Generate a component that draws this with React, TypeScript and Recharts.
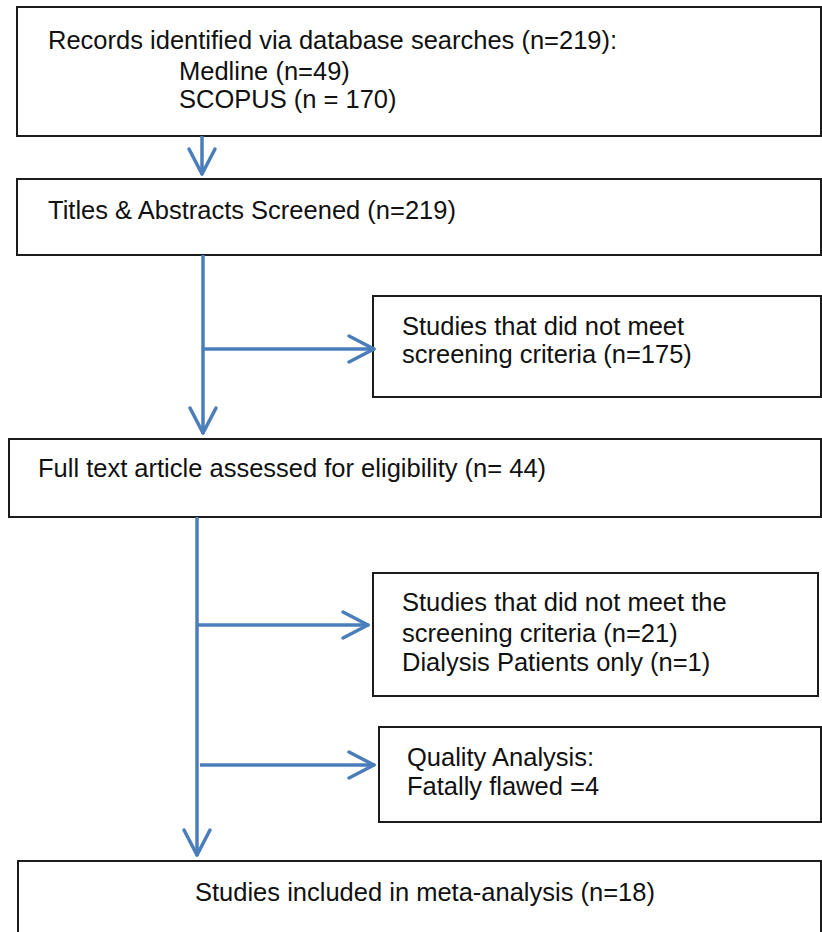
import { ComposedChart, XAxis, YAxis, ReferenceArea, ReferenceLine, Scatter } from "recharts";

// ─── Data ─────────────────────────────────────────────────────────────────────

const SEARCH_TOTAL = 219;
const SOURCE_NAMES = ["Medline", "SCOPUS"];
const SOURCE_COUNTS = [49, 170];
const SCREENED = 219;
const SCREEN_EXCLUDED = 175;
const FULL_TEXT = 44;
const FT_EXCLUDED = 21;
const DIALYSIS_ONLY = 1;
const FATALLY_FLAWED = 4;
const INCLUDED = 18;

// text lines, one array per box
const BOX_LINES: string[][] = [
  [
    `Records identified via database searches (n=${SEARCH_TOTAL}):`,
    `${SOURCE_NAMES[0]} (n=${SOURCE_COUNTS[0]})`,
    `${SOURCE_NAMES[1]} (n = ${SOURCE_COUNTS[1]})`,
  ],
  [`Titles & Abstracts Screened (n=${SCREENED})`],
  ["Studies that did not meet", `screening criteria (n=${SCREEN_EXCLUDED})`],
  [`Full text article assessed for eligibility (n= ${FULL_TEXT})`],
  [
    "Studies that did not meet the",
    `screening criteria (n=${FT_EXCLUDED})`,
    `Dialysis Patients only (n=${DIALYSIS_ONLY})`,
  ],
  ["Quality Analysis:", `Fatally flawed =${FATALLY_FLAWED}`],
  [`Studies included in meta-analysis (n=${INCLUDED})`],
];

// ─── Layout (page units, 1 unit = 1px) ─────────────────────────────────────────

const W = 822;
const H = 932;

const BOXES = [
  { x1: 17, x2: 821, y1: 7, y2: 136 },
  { x1: 17, x2: 821, y1: 179, y2: 255 },
  { x1: 373, x2: 821, y1: 296, y2: 397 },
  { x1: 9, x2: 821, y1: 439, y2: 517 },
  { x1: 373, x2: 818, y1: 573, y2: 696 },
  { x1: 379, x2: 821, y1: 727, y2: 822 },
  { x1: 18, x2: 821, y1: 861, y2: 960 },
];

// left edge of text and centre line of each row, per box
const TEXT_POS = [
  { x: [48, 179, 179], y: [40, 71, 99] },
  { x: [48], y: [210] },
  { x: [402, 402], y: [326, 354] },
  { x: [38], y: [468] },
  { x: [402, 402, 402], y: [602, 633, 662] },
  { x: [407, 407], y: [757, 786] },
  { x: [195], y: [892] },
];

const LINKS = [
  { from: { x: 202, y: 136 }, to: { x: 202, y: 174 } },
  { from: { x: 203, y: 255 }, to: { x: 203, y: 433 } },
  { from: { x: 203, y: 349 }, to: { x: 374, y: 349 } },
  { from: { x: 197, y: 517 }, to: { x: 197, y: 855 } },
  { from: { x: 197, y: 625 }, to: { x: 368, y: 625 } },
  { from: { x: 200, y: 765 }, to: { x: 374, y: 765 } },
];

const ARROW_COLOR = "#4a7ebb";
const BOX_COLOR = "#1c1c1c";
const HEAD_LEN = 25;
const HEAD_HALF = 13;

type Pt = { x: number; y: number };

function headWings(from: Pt, to: Pt): [Pt, Pt][] {
  const dx = to.x - from.x;
  const dy = to.y - from.y;
  const len = Math.hypot(dx, dy) || 1;
  const ux = dx / len;
  const uy = dy / len;
  const bx = to.x - ux * HEAD_LEN;
  const by = to.y - uy * HEAD_LEN;
  return [
    [{ x: bx - uy * HEAD_HALF, y: by + ux * HEAD_HALF }, to],
    [{ x: bx + uy * HEAD_HALF, y: by - ux * HEAD_HALF }, to],
  ];
}

const textRows = BOX_LINES.flatMap((lines, b) =>
  lines.map((text, i) => ({ x: TEXT_POS[b].x[i], y: TEXT_POS[b].y[i], text }))
);

function TextShape(props: any) {
  const { cx, cy, payload } = props;
  return (
    <text
      x={cx}
      y={cy}
      dominantBaseline="central"
      style={{ fontFamily: "'Liberation Sans', Arial, sans-serif", fontSize: 25.5, fill: "#111" }}
    >
      {payload.text}
    </text>
  );
}

export default function App() {
  return (
    <div style={{ position: "absolute", left: 0, top: 0, width: W, height: H, background: "#fff" }}>
      <ComposedChart width={W} height={H} margin={{ top: 0, right: 0, bottom: 0, left: 0 }} data={textRows}>
        <XAxis type="number" dataKey="x" domain={[0, W]} hide allowDataOverflow />
        <YAxis type="number" dataKey="y" domain={[0, H]} reversed hide allowDataOverflow />

        {BOXES.map((b, i) => (
          <ReferenceArea
            key={`box-${i}`}
            x1={b.x1}
            x2={b.x2}
            y1={b.y1}
            y2={b.y2}
            ifOverflow="visible"
            fill="#fff"
            fillOpacity={0}
            stroke={BOX_COLOR}
            strokeWidth={2}
          />
        ))}

        {LINKS.map((l, i) => (
          <ReferenceLine
            key={`link-${i}`}
            segment={[l.from, l.to]}
            stroke={ARROW_COLOR}
            strokeWidth={3.5}
          />
        ))}
        {LINKS.flatMap((l, i) =>
          headWings(l.from, l.to).map((seg, j) => (
            <ReferenceLine
              key={`head-${i}-${j}`}
              segment={seg}
              stroke={ARROW_COLOR}
              strokeWidth={3.5}
              strokeLinecap="round"
            />
          ))
        )}

        <Scatter data={textRows} dataKey="y" shape={TextShape} isAnimationActive={false} />
      </ComposedChart>
    </div>
  );
}
